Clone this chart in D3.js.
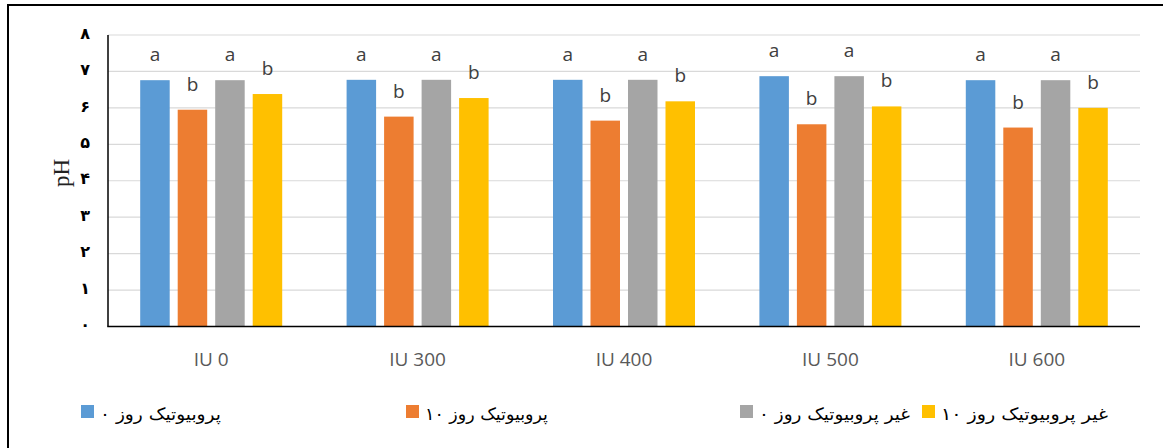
<!DOCTYPE html>
<html><head><meta charset="utf-8">
<script src="https://cdn.jsdelivr.net/npm/d3@7"></script>
<style>html,body{margin:0;padding:0;background:#fff;}svg{display:block;}</style>
</head><body>
<svg id="chart" width="1163" height="448"></svg>
<script>
const categories = ["IU 0", "IU 300", "IU 400", "IU 500", "IU 600"];
const seriesNames = ["پروبیوتیک روز ۰", "پروبیوتیک روز ۱۰", "غیر پروبیوتیک روز ۰", "غیر پروبیوتیک روز ۱۰"];
const probiotic0 = [6.76, 6.77, 6.77, 6.87, 6.76];
const probiotic10 = [5.95, 5.76, 5.65, 5.55, 5.46];
const nonProbiotic0 = [6.76, 6.77, 6.77, 6.87, 6.76];
const nonProbiotic10 = [6.38, 6.27, 6.18, 6.04, 6.00];
const letters0 = ["a", "a", "a", "a", "a"];
const letters10 = ["b", "b", "b", "b", "b"];
const letters0n = ["a", "a", "a", "a", "a"];
const letters10n = ["b", "b", "b", "b", "b"];
const yTicks = [0, 1, 2, 3, 4, 5, 6, 7, 8];
const yTickLabels = ["۰", "۱", "۲", "۳", "۴", "۵", "۶", "۷", "۸"];
const colors = ["#5B9BD5", "#ED7D31", "#A5A5A5", "#FFC000"];

const seriesValues = [probiotic0, probiotic10, nonProbiotic0, nonProbiotic10];
const seriesLetters = [letters0, letters10, letters0n, letters10n];

const svg = d3.select("#chart");
svg.append("rect").attr("x", 8).attr("y", 5).attr("width", 1170).attr("height", 460)
  .attr("fill", "none").attr("stroke", "#000").attr("stroke-width", 2);

const pLeft = 108, pRight = 1140, pTop = 35, pBottom = 326.5;
const x0 = d3.scaleBand().domain(categories).range([pLeft, pRight]).paddingInner(0.312).paddingOuter(0.156);
const x1 = d3.scaleBand().domain(d3.range(4)).range([0, x0.bandwidth()]).paddingInner(8 / 37.5);
const y = d3.scaleLinear().domain([0, 8]).range([pBottom, pTop]);

svg.append("g").selectAll("line").data(yTicks.filter(d => d > 0)).join("line")
  .attr("x1", pLeft).attr("x2", pRight).attr("y1", d => y(d)).attr("y2", d => y(d))
  .attr("stroke", "#d9d9d9").attr("stroke-width", 1.2);

const groups = svg.append("g").selectAll("g").data(categories).join("g")
  .attr("transform", c => `translate(${x0(c)},0)`);
groups.each(function (c, ci) {
  const g = d3.select(this);
  seriesValues.forEach((vals, si) => {
    g.append("rect").attr("x", x1(si)).attr("y", y(vals[ci]))
      .attr("width", x1.bandwidth()).attr("height", y(0) - y(vals[ci]))
      .attr("fill", colors[si]);
    g.append("text").attr("x", x1(si) + x1.bandwidth() / 2).attr("y", y(vals[ci]) - 19)
      .attr("text-anchor", "middle").attr("font-family", "Open Sans, sans-serif")
      .attr("font-size", 19).attr("fill", "#404040").text(seriesLetters[si][ci]);
  });
});

svg.append("line").attr("x1", pLeft).attr("x2", pLeft).attr("y1", pTop).attr("y2", pBottom)
  .attr("stroke", "#000").attr("stroke-width", 1.5);
svg.append("line").attr("x1", pLeft - 0.75).attr("x2", pRight).attr("y1", pBottom).attr("y2", pBottom)
  .attr("stroke", "#000").attr("stroke-width", 1.5);

const yAxis = d3.axisLeft(y).tickValues(yTicks).tickFormat((d, i) => yTickLabels[i]).tickSize(0).tickPadding(0);
const ya = svg.append("g").attr("transform", `translate(89,0)`).call(yAxis);
ya.select(".domain").remove();
ya.selectAll("text").attr("font-family", "DejaVu Sans, sans-serif").attr("font-size", 16)
  .attr("font-weight", "bold").attr("fill", "#000").attr("text-anchor", "middle").attr("dx", -4).attr("dy", "0.2em");

svg.append("text").attr("transform", `translate(69,173) rotate(-90)`).attr("text-anchor", "middle")
  .attr("font-family", "Liberation Serif, Times New Roman, serif").attr("font-size", 23).attr("fill", "#222").text("pH");

const xAxis = d3.axisBottom(x0).tickSize(0).tickPadding(0);
const xa = svg.append("g").attr("transform", `translate(0,${pBottom})`).call(xAxis);
xa.select(".domain").remove();
xa.selectAll("text").attr("font-family", "Open Sans, sans-serif").attr("font-size", 19)
  .attr("fill", "#595959").attr("dy", 0).attr("y", 39);

const legendX = [81, 406, 740, 922];
const legendW = [121, 123, 151, 167];
const leg = svg.append("g");
seriesNames.forEach((n, i) => {
  leg.append("rect").attr("x", legendX[i]).attr("y", 405).attr("width", 13).attr("height", 13).attr("fill", colors[i]);
  leg.append("text").attr("x", legendX[i] + 19).attr("y", 420).attr("font-family", "DejaVu Sans, sans-serif")
    .attr("font-size", 17).attr("fill", "#000")
    .attr("textLength", legendW[i]).attr("lengthAdjust", "spacingAndGlyphs").text(n);
});
</script>
</body></html>
